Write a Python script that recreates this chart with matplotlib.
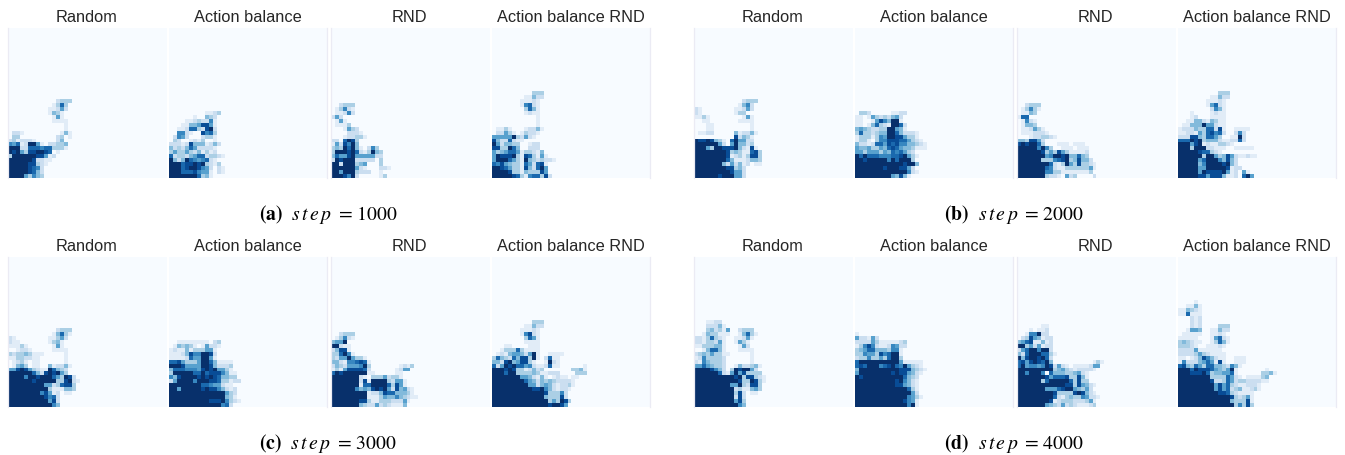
import numpy as np
import matplotlib
matplotlib.use("Agg")
import matplotlib.pyplot as plt

W, H = 1345, 455
N_COLS, N_ROWS = 40, 38

method_titles = ["Random", "Action balance", "RND", "Action balance RND"]
caption_letters = ["a", "b", "c", "d"]
caption_steps = [1000, 2000, 3000, 4000]

# Visit intensity (0-9) read per cell; each list runs top to bottom, ending on the bottom row, from column 0.
a_random = ["0000000000002333","000000000001373","000000000011252","00000000001431","000000000001510",
"000000000001111","000000000000001","000000000000001","0221000000000141","0330000000002301",
"23122210000024","657129951022334","999227776773331","989538899870 1","399999988512","999999822110","99999883 21","9999987 62","9999987 42","9999536 43"]
a_balance = ["0000000001123","000000100432","000011232261","000114458851","001127732892","006621008673","026520002331","032001213001",
"2221284441242","423247522221","353353241312","72332457723321","942497656721","9997889893213","99978998652021","99977786551021","99999997341"]
a_rnd = ["002333","013621","011262","252","0151","01113","0001532","00002221","000122331","2207983","1528694","343979410263","3999897213943",
"4755895555522","2989992222203","9929993450003","999999521000221","9959993222001","99986920000013"]
a_both = ["0000000000333","0000000011422","000000011121","000000016721","000000003741","000000001211",
"000000000001","000000000001","000000000001","0113100012241","022531013221","55555932521","84227211","9524433001 22",
"883397400222","5345775133214","5988893187 3151","5999753194323221","7685433175278 1","99875331842795","999983314333 85","999998731677382"]

b_random = ["0000000000002333","00000000000146 2","2100000000112 52","21000000001 33","113100000000151",
"001100000001111","000110000000001","000110000000001","011220000041224 1","0000000000 82431",
"988984310 79 5522","999999520594423","9995399888942181","99999999834311783","99999999812313883",
"99999999741112443","999999942524120 11","9999999988342","999999999 8552","9999998999552"]
b_balance = ["0332000001122","110153232452","110015864991","1101473219972","4543223399541","3733234499742221","1333136599885331",
"133103668887753 21","42212775878664432 1","544533547875443111","553555354767532","9797776667789531","998999996979993",
"9999999999998994","99999998999 8852","9999999999999621","99999999954841"]
b_rnd = ["002333","013631","01143","177","01621","01443","0112531","01112221","0001223321","4438852","898997300011 10111",
"999996963001110111","999999835385 3111 12","999999956998944743","9999993336789348442",
"99999999721395383321","99999997621133333351","9999999663311111113","999999932210523 00002"]
b_both = ["0000000000333","0000000011422","000000011121","000000015721","000000002641","000100001211","000120001111",
"001144214311","011444955211","1222433772810011 11","1122153786720026 2","22288437753001192","77798934442112272","99958912113321",
"9993999221110011111","999998773210","99999939953485211211","999995799964842","999994699998942","9999955999998122",
"999995988889512051","9999988588841120795"]

c_random = ["0000000000002333","0000000000014731","210000000011352","21100000001341","11131000000151","001221000001111",
"323343111000001","113322110000001","012310110000001","0145301100412241","558985321197432","999999742898953",
"99996998999753982","999999899999338921","99999999955237883","99999999993111443","9999999968512011","9999999998672","9999999999582","9999999999964"]
c_balance = ["0011111111023","0143431015221","121141333551","111248669982","111127559951","7785333599741111","9998555599842223","477766658989553 1",
"39999977978886411","64899998989874433","2599996999887331 22","9999999977655211","99599999898864212","9999999999999953 2",
"99999999999999431","999999999988896321","9999999999999672"]
c_rnd = ["002333","013621","455900","99211","24881","337961","325595331","4421667871","24325556930000000121 3","13158888720000001255","798999999110000011",
"9999999210333523 31","999999928199993255 1","9999999177999973851","999999645489895284521","999999999122487744431","9999999991113544643211",
"99999998831133322251","9999999432252321114"]
c_both = ["0000000000333","0000000011422","000000011121","000000016821","000000003751","000000001111","000110000111","001333731111",
"012145542591001111","37432748839102711","44289458831001921","725989775621127110000001","99989833124230000000334 1",
"99979933334311222000033 3","9999999554214101211011","999999997542434322221","999999999552454212231","9999999999889642122 1",
"99999999999998333 62","999999999999943338 2","99999999999999353983","9999999999999989985"]

d_random = ["0001122","00022241","000342315002333","0014331110014731","2213732100112 51","22133251001531","11333441000152","001477410001111",
"234353311000001","126333320000001","216433320000001","55754332001422341","99998642039899 52","99999972159583333",
"9999999999893883 21","99999999999833983 1","99999999955932883","9999999999 2311453","9999999999382011","9999999999282","9999999999583","9999999999964"]
d_balance = ["1","522152","2222531111123","1368621126522","345774443661","33655386799 1","23363353799 3","79999999999511111","78799967897695321",
"499999999998884 321","59999999989885421","9899999999997432","9999999999896421","9999999999885421","9999999999999731","999999999999995 2",
"99999999999996531","9999999999998651","9999999999999691"]
d_rnd = ["00000011","00010112","00166922","023854122","457811412","993525122","257996992","4279997731","948998972","7858987940000000000131",
"795665698252101111255","99999999934532122221","996999607444334521","999999985777833841","999999379999973833",
"9999999999998838 5421","9999999555789954352","9999999998333389842 1","999999999721343365221","99999999812333222351",
"99999995432523211123"]
d_both = ["00001","001141","114321","117111","000212","000212","0002120000333","0015540011422","011111001121","1111100015721","3432110013741",
"333210011121","22225111111","222235321111","1101248642110011 1","16222457518100111","7843753774432641","99979888754359100000001",
"9998889734455710000003341","99999999333375210111134","99999999822375233222211","999999999585732112221","999999999585723411231",
"9999999999887321111","999999999999983235 1","999999999999943338 1","9999999999999936383"]

panel_data = [[a_random, a_balance, a_rnd, a_both],
              [b_random, b_balance, b_rnd, b_both],
              [c_random, c_balance, c_rnd, c_both],
              [d_random, d_balance, d_rnd, d_both]]


def to_grid(rows):
    g = np.zeros((N_ROWS, N_COLS))
    for i, row in enumerate(rows):
        y = N_ROWS - len(rows) + i
        row = row.replace(" ", "")
        for j, ch in enumerate(row[:N_COLS]):
            g[y, j] = int(ch)
    return g


plt.rcParams["font.family"] = ["Liberation Sans", "DejaVu Sans"]
plt.rcParams["mathtext.fontset"] = "stix"
fig = plt.figure(figsize=(W / 100, H / 100), dpi=100, facecolor="white")

group_x = [[7.5, 168.8, 330.5, 491.5], [693.5, 854.8, 1016.5, 1177.5]]
panel_w = 158.5
row_y = [28, 257]
panel_h = 150
edge = "#ebebf4"

for g, data in enumerate(panel_data):
    top = row_y[g // 2]
    xs = group_x[g % 2]
    for p, rows in enumerate(data):
        ax = fig.add_axes([xs[p] / W, 1 - (top + panel_h) / H, panel_w / W, panel_h / H])
        ax.imshow(to_grid(rows), cmap="Blues", vmin=0, vmax=9, aspect="auto", interpolation="nearest")
        ax.set_xticks([])
        ax.set_yticks([])
        for name, s in ax.spines.items():
            s.set_visible(False)
        side = "left" if p % 2 == 0 else "right"
        ax.spines[side].set_visible(True)
        ax.spines[side].set_color(edge)
        ax.spines[side].set_linewidth(0.9)
        ax.set_title(method_titles[p], fontsize=11.8, color="#262626", pad=4.2, family="Liberation Sans")
    cx = (xs[0] + xs[3] + panel_w) / 2 - 0.5
    cy = top + 186.5
    fig.text(cx / W, 1 - cy / H,
             r"$\mathbf{(%s)}$  $s\,t\,e\,p\,$ = %d" % (caption_letters[g], caption_steps[g]),
             ha="center", va="center", fontsize=14.2, color="black", family="STIXGeneral")

fig.savefig("out.png", dpi=100, facecolor="white")
